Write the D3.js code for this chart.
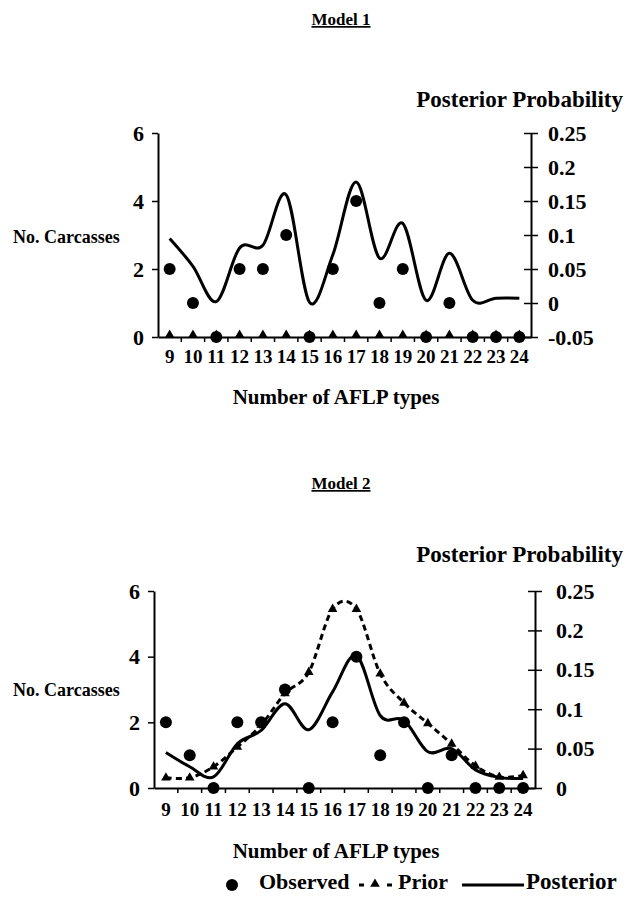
<!DOCTYPE html>
<html>
<head>
<meta charset="utf-8">
<script src="https://cdn.jsdelivr.net/npm/d3@7"></script>
<style>
  html, body { margin: 0; padding: 0; background: #fff; }
  svg text { font-family: "Liberation Serif", "DejaVu Serif", serif; font-weight: bold; fill: #000; }
</style>
</head>
<body>
<div id="chart"></div>
<script>
// Categories: number of AFLP types
const aflpTypes = [9, 10, 11, 12, 13, 14, 15, 16, 17, 18, 19, 20, 21, 22, 23, 24];

// Observed carcasses (left axis), same in both models
const observed = [2, 1, 0, 2, 2, 3, 0, 2, 4, 1, 2, 0, 1, 0, 0, 0];

// Model 1: uniform prior (left axis, shows along zero line) and posterior (right axis)
const prior1 = [0.06, 0.06, 0.06, 0.06, 0.06, 0.06, 0.06, 0.06, 0.06, 0.06, 0.06, 0.06, 0.06, 0.06, 0.06, 0.06];
const posterior1 = [0.095, 0.054, 0.002, 0.081, 0.085, 0.159, 0.001, 0.071, 0.178, 0.066, 0.117, 0.004, 0.073, 0.004, 0.007, 0.007];

// Model 2: prior and posterior (right axis)
const prior2 = [0.013, 0.013, 0.027, 0.052, 0.08, 0.12, 0.147, 0.227, 0.227, 0.145, 0.108, 0.082, 0.056, 0.028, 0.014, 0.016];
const posterior2 = [0.045, 0.027, 0.014, 0.056, 0.073, 0.107, 0.074, 0.122, 0.168, 0.092, 0.086, 0.046, 0.05, 0.023, 0.0135, 0.012];

// Axis ticks
const leftTicks = [0, 2, 4, 6];
const rightTicks1 = [-0.05, 0, 0.05, 0.1, 0.15, 0.2, 0.25];
const rightTicks2 = [0, 0.05, 0.1, 0.15, 0.2, 0.25];

const width = 631, height = 901;
const FONT = '"Liberation Serif", "DejaVu Serif", serif';

const svg = d3.select('#chart').append('svg')
    .attr('width', width)
    .attr('height', height);

const smooth = d3.curveCardinal.tension(0);

function styleText(sel, size) {
    sel.attr('font-family', FONT)
        .attr('font-weight', 'bold')
        .attr('font-size', size)
        .attr('fill', '#000');
}

/**
 * Draw one model panel
 */
function drawPanel(p) {
    const g = svg.append('g');

    const x = d3.scaleBand().domain(aflpTypes).range([p.x0, p.x1]);
    const yL = d3.scaleLinear().domain([0, 6]).range([p.yBottom, p.yTop]);
    const yR = d3.scaleLinear().domain(p.rightDomain).range([p.yBottom, p.yTop]);
    const cx = d => x(d) + x.bandwidth() / 2;

    // title
    g.append('text')
        .attr('x', 341).attr('y', p.titleY)
        .attr('text-anchor', 'middle')
        .attr('text-decoration', 'underline')
        .text(p.title)
        .call(styleText, 17);

    // left axis
    const left = g.append('g')
        .attr('transform', `translate(${p.x0},0)`)
        .call(d3.axisLeft(yL).tickValues(leftTicks).tickFormat(d3.format('d'))
            .tickSizeInner(6).tickSizeOuter(0).tickPadding(8));
    left.attr('font-family', FONT);
    left.selectAll('text').call(styleText, 22);

    // right axis, ticks crossing the line
    const right = g.append('g')
        .attr('transform', `translate(${p.x1},0)`)
        .call(d3.axisRight(yR).tickValues(p.rightTicks).tickSizeInner(7).tickSizeOuter(0)
            .tickPadding(p.rightPad).tickFormat(d => String(+d.toFixed(2))));
    right.attr('font-family', FONT);
    right.selectAll('.tick line').attr('x1', -7);
    right.selectAll('text').call(styleText, 22);

    // x axis line with boundary ticks
    const bottom = g.append('g')
        .attr('transform', `translate(0,${p.yBottom})`)
        .call(d3.axisBottom(x).tickSize(0).tickPadding(p.xPad).tickFormat(d => d));
    bottom.attr('font-family', FONT);
    bottom.selectAll('text').call(styleText, 19);
    bottom.selectAll('.tick').filter((d, i) => i > 0).append('line')
        .attr('x1', -x.step() / 2).attr('x2', -x.step() / 2)
        .attr('y1', 0).attr('y2', 5);

    g.selectAll('.domain').attr('stroke', '#000').attr('stroke-width', 2);
    g.selectAll('.tick line').attr('stroke', '#000').attr('stroke-width', 1.5);

    // axis titles
    g.append('text')
        .attr('x', 13).attr('y', p.leftTitleY)
        .text('No. Carcasses')
        .call(styleText, 18);
    g.append('text')
        .attr('x', 623).attr('y', p.rightTitleY)
        .attr('text-anchor', 'end')
        .text('Posterior Probability')
        .call(styleText, 23);
    g.append('text')
        .attr('x', 336).attr('y', p.xTitleY)
        .attr('text-anchor', 'middle')
        .text('Number of AFLP types')
        .call(styleText, 21);

    // prior line + triangles
    const priorY = p.priorOnLeft ? yL : yR;
    if (!p.priorOnLeft) {
        g.append('path')
            .datum(p.prior)
            .attr('fill', 'none')
            .attr('stroke', '#000')
            .attr('stroke-width', 3)
            .attr('stroke-dasharray', '6,4')
            .attr('d', d3.line().x((d, i) => cx(aflpTypes[i])).y(d => priorY(d)).curve(smooth));
    }
    g.selectAll('.prior-pt')
        .data(p.prior)
        .enter().append('path')
        .attr('class', 'prior-pt')
        .attr('transform', (d, i) => `translate(${cx(aflpTypes[i])},${priorY(d)})`)
        .attr('d', d3.symbol().type(d3.symbolTriangle).size(40))
        .attr('fill', '#000');

    // posterior line
    g.append('path')
        .datum(p.posterior)
        .attr('fill', 'none')
        .attr('stroke', '#000')
        .attr('stroke-width', 3)
        .attr('d', d3.line().x((d, i) => cx(aflpTypes[i])).y(d => yR(d)).curve(smooth));

    // observed dots
    g.selectAll('.obs')
        .data(observed)
        .enter().append('circle')
        .attr('class', 'obs')
        .attr('cx', (d, i) => cx(aflpTypes[i]))
        .attr('cy', d => yL(d))
        .attr('r', 6)
        .attr('fill', '#000');
}

drawPanel({
    title: 'Model 1', titleY: 25,
    x0: 158, x1: 531, yTop: 133, yBottom: 337,
    rightDomain: [-0.05, 0.25], rightTicks: rightTicks1, rightPad: 10, xPad: 13,
    leftTitleY: 243, rightTitleY: 107, xTitleY: 404,
    prior: prior1, posterior: posterior1, priorOnLeft: true
});

drawPanel({
    title: 'Model 2', titleY: 489,
    x0: 154, x1: 535, yTop: 591, yBottom: 788,
    rightDomain: [0, 0.25], rightTicks: rightTicks2, rightPad: 14, xPad: 15,
    leftTitleY: 696, rightTitleY: 562, xTitleY: 858,
    prior: prior2, posterior: posterior2, priorOnLeft: false
});

// legend
const legend = svg.append('g').attr('transform', 'translate(0,885)');
legend.append('circle').attr('cx', 232).attr('cy', 0).attr('r', 6).attr('fill', '#000');
legend.append('text').attr('x', 259).attr('y', 4).text('Observed').call(styleText, 22);
legend.append('line').attr('x1', 359).attr('x2', 392).attr('y1', 0).attr('y2', 0)
    .attr('stroke', '#000').attr('stroke-width', 3).attr('stroke-dasharray', '5,23');
legend.append('path').attr('transform', 'translate(375,-1)')
    .attr('d', d3.symbol().type(d3.symbolTriangle).size(40)).attr('fill', '#000');
legend.append('text').attr('x', 398).attr('y', 4).text('Prior').call(styleText, 22);
legend.append('line').attr('x1', 462).attr('x2', 524).attr('y1', 0).attr('y2', 0)
    .attr('stroke', '#000').attr('stroke-width', 3);
legend.append('text').attr('x', 526).attr('y', 4).text('Posterior').call(styleText, 23);
</script>
</body>
</html>
